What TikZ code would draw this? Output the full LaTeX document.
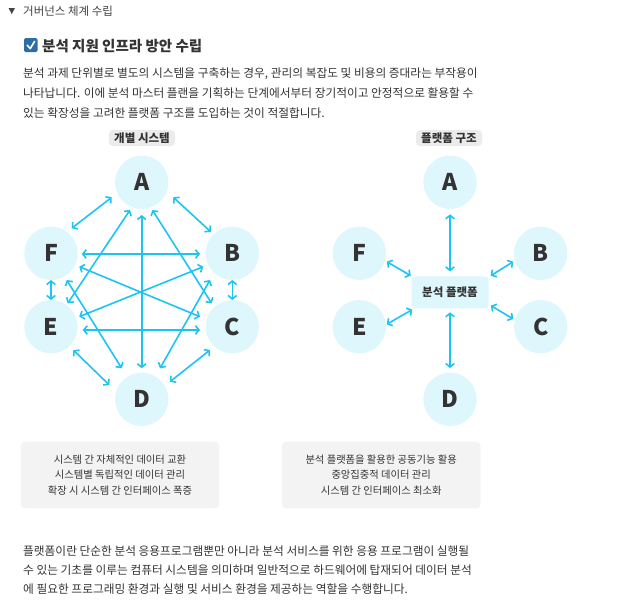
\documentclass[tikz,border=0pt]{standalone}
\usepackage{fontspec}
\setmainfont{Noto Sans CJK KR}
\usetikzlibrary{arrows.meta,calc}
\definecolor{arrowc}{HTML}{1CC4F2}
\definecolor{circfill}{HTML}{DDF7FD}
\definecolor{lettc}{HTML}{333333}
\definecolor{textc}{HTML}{333333}
\definecolor{headc}{HTML}{444444}
\definecolor{tagfill}{HTML}{EBEBEB}
\definecolor{boxfill}{HTML}{F3F3F3}
\definecolor{checkc}{HTML}{2E6DA4}
\begin{document}
\begin{tikzpicture}[x=1pt,y=1pt,
  sysnode/.style={circle,fill=circfill,minimum size=53.4pt,inner sep=0pt,
    font=\fontsize{23}{23}\selectfont\bfseries,text=lettc},
  link/.style={draw=arrowc,line width=1.6pt,
    {Straight Barb[length=3.5pt,width=8.5pt]}-{Straight Barb[length=3.5pt,width=8.5pt]}},
  bodyline/.style={anchor=west,inner sep=0pt,font=\fontsize{11.7}{13}\selectfont,text=textc},
  tagbox/.style={fill=tagfill,rounded corners=4pt,minimum width=66pt,minimum height=16pt,
    inner sep=0pt,font=\fontsize{11.5}{11.5}\selectfont\bfseries,text=lettc},
  notebox/.style={fill=boxfill,rounded corners=4pt,minimum width=198.6pt,minimum height=66.6pt,inner sep=0pt},
  noteline/.style={inner sep=0pt,font=\fontsize{10.3}{11}\selectfont,text=textc},
  platbox/.style={fill=circfill,rounded corners=3pt,minimum width=77pt,minimum height=32pt,
    inner sep=0pt,font=\fontsize{11.5}{11.5}\selectfont\bfseries,text=lettc}]
\useasboundingbox (0,0) rectangle (617,-600);

% header
\fill[headc] (8.5,-8) -- (15,-8) -- (11.75,-14) -- cycle;
\node[anchor=west,inner sep=0pt,font=\fontsize{11.5}{12}\selectfont,text=headc] (hdr) at (23,-11) {거버넌스 체계 수립};

% checkbox + title
\fill[checkc,rounded corners=1.5pt] (24,-38) rectangle (37.5,-52);
\draw[white,line width=1.6pt,line cap=round,line join=round] (27.3,-45.2) -- (30.2,-48.6) -- (34.6,-41.4);
\node[anchor=west,inner sep=0pt,font=\fontsize{14.5}{16}\selectfont\bfseries,text=textc] (title) at (42,-46) {분석 지원 인프라 방안 수립};

% paragraph 1
\node[bodyline] (p1a) at (23,-73.5) {분석 과제 단위별로 별도의 시스템을 구축하는 경우, 관리의 복잡도 및 비용의 증대라는 부작용이};
\node[bodyline] (p1b) at (23,-93.5) {나타납니다. 이에 분석 마스터 플랜을 기획하는 단계에서부터 장기적이고 안정적으로 활용할 수};
\node[bodyline] (p1c) at (23,-113) {있는 확장성을 고려한 플랫폼 구조를 도입하는 것이 적절합니다.};

% tags
\node[tagbox] (tagL) at (142,-138) {개별 시스템};
\node[tagbox] (tagR) at (449,-138) {플랫폼 구조};

% left diagram nodes
\node[sysnode] (A) at (141.7,-182.3) {A};
\node[sysnode] (F) at (51,-253.3) {F};
\node[sysnode] (B) at (232.3,-253.3) {B};
\node[sysnode] (E) at (51,-326.7) {E};
\node[sysnode] (C) at (232.3,-326.7) {C};
\node[sysnode] (D) at (141.7,-399.3) {D};

% left diagram links
\draw[link] ($(A)+(206.6:33.5pt)$) -- ($(F)+(50.4:32.5pt)$);
\draw[link] ($(A)+(334.6:35pt)$) -- ($(B)+(135:30.5pt)$);
\draw[link] ($(A)+(247.1:30pt)$) -- ($(E)+(54.5:28.7pt)$);
\draw[link] ($(A)+(291:29.7pt)$) -- ($(C)+(131.4:31.2pt)$);
\draw[link] ($(A)+(270:32.7pt)$) -- ($(D)+(90:31pt)$);
\draw[link] ($(F)+(0,-0.7pt)+(0:30.7pt)$) -- ($(B)+(0,-0.7pt)+(180:32.3pt)$);
\draw[link] ($(F)+(270:26.7pt)$) -- ($(E)+(90:26.7pt)$);
\draw[link] ($(F)+(334.7:31.3pt)$) -- ($(C)+(162.8:33.8pt)$);
\draw[link] ($(F)+(300.5:31pt)$) -- ($(D)+(122.8:36.9pt)$);
\draw[link] ($(E)+(19.5:30pt)$) -- ($(B)+(204.8:32pt)$);
\draw[link] ($(E)+(-6:31.9pt)$) -- ($(C)+(185.8:32.5pt)$);
\draw[link] ($(E)+(313.7:32.3pt)$) -- ($(D)+(156.2:35.4pt)$);
\draw[link] ($(B)+(270:26.7pt)$) -- ($(C)+(90:26.7pt)$);
\draw[link] ($(B)+(230.1:34.8pt)$) -- ($(D)+(59.4:36pt)$);
\draw[link] ($(C)+(226.3:32.3pt)$) -- ($(D)+(31.9:33.3pt)$);

% right diagram nodes
\node[sysnode] (A2) at (450,-182.3) {A};
\node[sysnode] (F2) at (359.3,-253.3) {F};
\node[sysnode] (B2) at (540.7,-253.3) {B};
\node[sysnode] (E2) at (359.3,-326.7) {E};
\node[sysnode] (C2) at (540.7,-326.7) {C};
\node[sysnode] (D2) at (450,-399.3) {D};
\node[platbox] (P) at (450,-292.4) {분석 플랫폼};

% right diagram links
\draw[link] ($(A2)+(270:32pt)$) -- ($(P.north)+(0,4.8pt)$);
\draw[link] ($(D2)+(90:31.3pt)$) -- ($(P.south)+(0,-3.7pt)$);
\draw[link] ($(F2)+(343:28.7pt)$) -- ($(P.north west)+(-0.5pt,0.5pt)$);
\draw[link] ($(B2)+(197:28.7pt)$) -- ($(P.north east)+(2pt,0.5pt)$);
\draw[link] ($(E2)+(5:27.5pt)$) -- ($(P.south west)+(1pt,-1pt)$);
\draw[link] ($(C2)+(164.3:28.5pt)$) -- ($(P.south east)+(2.2pt,3pt)$);

% note boxes
\node[notebox] (nbL) at (120,-475) {};
\node[noteline] (nL1) at (120,-459.3) {시스템 간 자체적인 데이터 교환};
\node[noteline] (nL2) at (120,-475) {시스템별 독립적인 데이터 관리};
\node[noteline] (nL3) at (120,-491) {확장 시 시스템 간 인터페이스 폭증};
\node[notebox] (nbR) at (381.2,-475) {};
\node[noteline] (nR1) at (381.2,-459.3) {분석 플랫폼을 활용한 공동기능 활용};
\node[noteline] (nR2) at (381.2,-475) {중앙집중적 데이터 관리};
\node[noteline] (nR3) at (381.2,-491) {시스템 간 인터페이스 최소화};

% paragraph 2
\node[bodyline] (p2a) at (23,-551) {플랫폼이란 단순한 분석 응용프로그램뿐만 아니라 분석 서비스를 위한 응용 프로그램이 실행될};
\node[bodyline] (p2b) at (23,-570) {수 있는 기초를 이루는 컴퓨터 시스템을 의미하며 일반적으로 하드웨어에 탑재되어 데이터 분석};
\node[bodyline] (p2c) at (23,-589) {에 필요한 프로그래밍 환경과 실행 및 서비스 환경을 제공하는 역할을 수행합니다.};
\end{tikzpicture}
\end{document}
